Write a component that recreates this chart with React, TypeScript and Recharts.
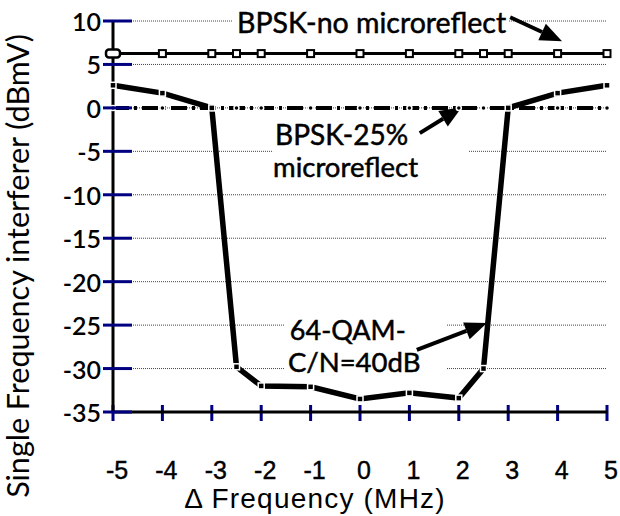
import React from 'react';
import { LineChart, Line, XAxis, YAxis, CartesianGrid, ReferenceLine, ReferenceArea, ReferenceDot } from 'recharts';

// Frequency offsets (MHz)
const freq = [-5, -4, -3, -2.5, -2, -1, 0, 1, 2, 2.5, 3, 4, 5];
// Series values (dBmV)
const bpskNoMicro = [6.25, 6.25, 6.25, 6.25, 6.25, 6.25, 6.25, 6.25, 6.25, 6.25, 6.25, 6.25, 6.25];
const bpsk25Micro = [0, 0, 0, 0, 0, 0, 0, 0, 0, 0, 0, 0, 0];
const qam64 = [2.6, 1.7, 0, -29.8, -32, -32.1, -33.5, -32.8, -33.4, -30, 0, 1.7, 2.6];

const xTicks = [-5, -4, -3, -2, -1, 0, 1, 2, 3, 4, 5];
const yTicks = [-35, -30, -25, -20, -15, -10, -5, 0, 5, 10];

// Annotation texts anchored in data coordinates [x, y(baseline)]
const annoTexts = [
  { text: 'BPSK-no microreflect', x: -2.49, y: 8.6, size: 28.5 },
  { text: 'BPSK-25%', x: -1.72, y: -4.29, size: 28 },
  { text: 'microreflect', x: -1.76, y: -7.97, size: 27.5 },
  { text: '64-QAM-', x: -1.42, y: -26.7, size: 27 },
  { text: 'C/N=40dB', x: -1.46, y: -30.4, size: 27.5 },
];
// White boxes behind annotation texts [x1, x2, y1, y2]
const annoBoxes = [
  [-2.57, 3.0, 8.2, 11.2],
  [-1.76, 2.19, -8.5, -1.4],
  [-1.52, 1.76, -31.1, -23.7],
];
// Arrows [tailX, tailY, tipX, tipY]
const arrows = [
  [3.04, 10.43, 4.09, 7.67],
  [1.21, -2.91, 2.06, 0.08],
  [1.15, -27.86, 2.57, -24.76],
];

const data = freq.map((f, i) => ({ f, bpskNo: bpskNoMicro[i], bpsk25: bpsk25Micro[i], qam: qam64[i] }));

const TXT_FONT = 'Lato, "Open Sans", sans-serif';
const AX_FONT = '"Liberation Sans", Arial, sans-serif';
const TICK_INK = '#000080';

const ArrowShape = (p: any) => {
  const { x1, y1, x2, y2 } = p;
  const dx = x2 - x1;
  const dy = y2 - y1;
  const len = Math.sqrt(dx * dx + dy * dy) || 1;
  const ux = dx / len;
  const uy = dy / len;
  const headL = 22;
  const headW = 9;
  const bx = x2 - ux * headL;
  const by = y2 - uy * headL;
  const px = -uy;
  const py = ux;
  const pts = `${x2},${y2} ${bx + px * headW},${by + py * headW} ${bx - px * headW},${by - py * headW}`;
  return (
    <g>
      <line x1={x1} y1={y1} x2={bx} y2={by} stroke="#000" strokeWidth={4} />
      <polygon points={pts} fill="#000" />
    </g>
  );
};

const XTickMark = (p: any) => {
  const { x1, y1, y2 } = p;
  const bottom = Math.max(y1, y2);
  return <line x1={x1} x2={x1} y1={bottom - 7} y2={bottom + 9} stroke={TICK_INK} strokeWidth={3} />;
};

const YTick = (p: any) => {
  const { x, y, payload } = p;
  return (
    <g>
      <line x1={x - 10} x2={x + 19} y1={y} y2={y} stroke={TICK_INK} strokeWidth={3} />
      <text x={x - 12} y={y} textAnchor="end" dominantBaseline="central" fontFamily={TXT_FONT} fontWeight={600} fontSize={25} fill="#000">
        {payload.value}
      </text>
    </g>
  );
};

const XTick = (p: any) => {
  const { x, y, payload } = p;
  return (
    <text x={x + 4} y={y + 67} textAnchor="middle" fontFamily={AX_FONT} fontSize={25} fill="#000" stroke="#000" strokeWidth={0.4}>
      {payload.value}
    </text>
  );
};

const SquareDot = (p: any) => {
  const { cx, cy, index } = p;
  if (cx == null || cy == null) return <g key={index} />;
  if (index === 0) {
    return <rect key={index} x={cx - 7} y={cy - 4} width={14} height={8} rx={3} fill="#fff" stroke="#000" strokeWidth={2.5} />;
  }
  return <rect key={index} x={cx - 3.5} y={cy - 3.5} width={7} height={7} fill="#fff" stroke="#000" strokeWidth={2} />;
};

const QamDot = (p: any) => {
  const { cx, cy, index } = p;
  if (cx == null || cy == null) return <g key={index} />;
  return <rect key={index} x={cx - 3} y={cy - 3} width={6} height={6} fill="#000" stroke="#fff" strokeWidth={1.5} />;
};

const SmallDot = (p: any) => {
  const { cx, cy, index } = p;
  if (cx == null || cy == null) return <g key={index} />;
  return <circle key={index} cx={cx} cy={cy} r={2.5} fill="#000" stroke="#fff" strokeWidth={1.5} />;
};

export default function App() {
  return (
    <div style={{ position: 'absolute', left: 0, top: 0, width: 620, height: 516, background: '#fff' }}>
      <LineChart width={620} height={516} data={data} margin={{ top: 21, right: 13, bottom: 0, left: 0 }}>
        <CartesianGrid horizontal vertical={false} stroke="#444" strokeWidth={1} strokeDasharray="1 1" />
        <XAxis
          dataKey="f"
          type="number"
          domain={[-5, 5]}
          ticks={xTicks}
          height={104}
          axisLine={{ stroke: '#000', strokeWidth: 3 }}
          tickLine={false}
          tickSize={0}
          tickMargin={0}
          tick={(p: any) => <XTick {...p} />}
          label={(lp: any) => (
            <text x={315} y={508} textAnchor="middle" fontFamily={AX_FONT} fontSize={28} letterSpacing={1.2} fill="#000">
              Δ Frequency (MHz)
            </text>
          )}
        />
        <YAxis
          type="number"
          domain={[-35, 10]}
          ticks={yTicks}
          width={113}
          axisLine={{ stroke: '#000', strokeWidth: 3 }}
          tickLine={false}
          tickSize={0}
          tickMargin={0}
          tick={(p: any) => <YTick {...p} />}
          label={(lp: any) => (
            <text
              x={17}
              y={266}
              transform="rotate(-90, 17, 266)"
              textAnchor="middle"
              dominantBaseline="central"
              fontFamily={TXT_FONT}
              fontSize={30.5}
              fill="#000"
            >
              Single Frequency interferer (dBmV)
            </text>
          )}
        />
        {annoBoxes.map((b, i) => (
          <ReferenceArea key={'box' + i} x1={b[0]} x2={b[1]} y1={b[2]} y2={b[3]} fill="#fff" fillOpacity={1} stroke="none" ifOverflow="visible" />
        ))}
        {xTicks.map((v) => (
          <ReferenceLine key={'xt' + v} x={v} ifOverflow="visible" shape={(sp: any) => <XTickMark {...sp} />} />
        ))}
        <Line dataKey="bpskNo" stroke="#000" strokeWidth={3} dot={(p: any) => <SquareDot {...p} />} isAnimationActive={false} />
        <Line dataKey="bpsk25" stroke="#000" strokeWidth={4} strokeDasharray="16 5 3 5" dot={(p: any) => <SmallDot {...p} />} isAnimationActive={false} />
        <Line dataKey="qam" stroke="#000" strokeWidth={5.5} dot={(p: any) => <QamDot {...p} />} isAnimationActive={false} />
        {annoTexts.map((t, i) => (
          <ReferenceDot
            key={'t' + i}
            x={t.x}
            y={t.y}
            r={1}
            ifOverflow="visible"
            shape={(sp: any) => (
              <text x={sp.cx} y={sp.cy} fontFamily={TXT_FONT} fontSize={t.size} fill="#000" stroke="#000" strokeWidth={0.5}>
                {t.text}
              </text>
            )}
          />
        ))}
        {arrows.map((a, i) => (
          <ReferenceLine
            key={'a' + i}
            segment={[{ x: a[0], y: a[1] }, { x: a[2], y: a[3] }]}
            ifOverflow="visible"
            shape={(sp: any) => <ArrowShape {...sp} />}
          />
        ))}
      </LineChart>
    </div>
  );
}
